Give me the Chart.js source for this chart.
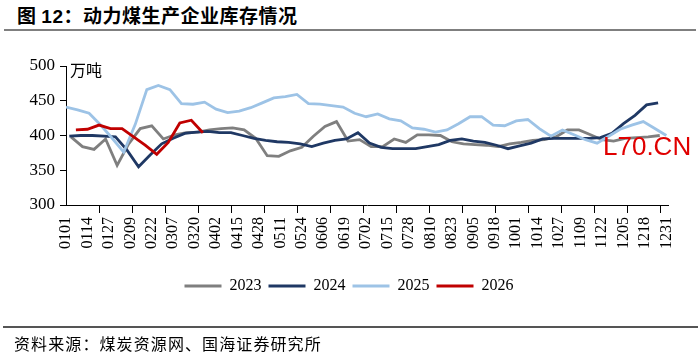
<!DOCTYPE html>
<html lang="zh-CN">
<head>
  <meta charset="UTF-8">
  <title>动力煤生产企业库存情况</title>
  <script src="https://cdn.jsdelivr.net/npm/chart.js"></script>
  <style>
    html, body { margin: 0; padding: 0; background: #fff; }
    body { width: 698px; height: 354px; position: relative; overflow: hidden; }
    #coalChart { position: absolute; left: 0; top: 0; }
    .title { position: absolute; left: 17px; top: 4px; font: bold 19px/22px "Noto Sans CJK SC"; color: #000; white-space: nowrap; letter-spacing: 0.5px; }
    .title span { font-family: "Liberation Sans"; }
    .rule { position: absolute; left: 4px; width: 692px; height: 2px; background: #7f7f7f; }
    .unit { position: absolute; left: 70px; top: 59px; font: 16px/20px "Noto Sans CJK SC"; color: #000; }
    .source { position: absolute; left: 14px; top: 333px; font: 16px/20px "Noto Sans CJK SC"; color: #000; letter-spacing: 1.1px; white-space: nowrap; }
    .mark { position: absolute; left: 603px; top: 133px; font: 26px/26px "Liberation Sans"; color: #e00000; }
  </style>
</head>
<body>

  <div class="title">图 <span>12</span>：动力煤生产企业库存情况</div>
  <div class="rule" style="top:29px"></div>
  <canvas id="coalChart" width="698" height="354"></canvas>
  <div class="unit">万吨</div>
  <div class="mark">L70.CN</div>
  <div class="rule" style="top:326px; left:3px; width:695px; background:#555"></div>
  <div class="source">资料来源：煤炭资源网、国海证券研究所</div>

  <script>
    // x axis labels (MMDD)
    const tickLabels = ['0101', '0114', '0127', '0209', '0222', '0307', '0320', '0402', '0415', '0428',
      '0511', '0524', '0606', '0619', '0702', '0715', '0728', '0810', '0823', '0905',
      '0918', '1001', '1014', '1027', '1109', '1122', '1205', '1218', '1231'];

    // weekly data, first date of each year
    const start2023 = '0104';
    const start2024 = '0103';
    const start2025 = '0101';
    const start2026 = '0107';

    const v2023 = [398, 384, 380, 395, 357, 388, 410, 414, 395, 401, 404, 405, 408, 410, 411, 408, 396, 371, 370, 378,
      383, 399, 413, 420, 392, 394, 384, 384, 395, 390, 401, 401, 400, 391, 388, 387, 386, 384, 388, 390,
      393, 394, 398, 408, 408, 401, 394, 392, 396, 397, 398, 400];
    const v2024 = [399, 400, 400, 399, 398, 379, 355, 372, 388, 396, 403, 405, 406, 404, 404, 400, 396, 393, 391, 390,
      388, 384, 389, 393, 395, 404, 389, 383, 381, 381, 381, 384, 387, 393, 395, 392, 390, 386, 381, 385,
      389, 395, 396, 396, 396, 396, 397, 403, 417, 429, 444, 447];
    const v2025 = [441, 437, 432, 415, 396, 376, 416, 466, 472, 466, 446, 445, 448, 438, 433, 435, 440, 447, 454, 456,
      459, 446, 445, 443, 441, 432, 427, 431, 424, 421, 411, 409, 405, 408, 417, 427, 427, 415, 414, 421,
      423, 410, 399, 408, 401, 394, 389, 399, 409, 415, 420, 410, 400];
    const v2026 = [408, 409, 415, 410, 410, 398, 386, 373, 390, 418, 422, 404];

    function dayOfYear(mmdd) {
      const m = +mmdd.slice(0, 2), d = +mmdd.slice(2);
      return (Date.UTC(2023, m - 1, d) - Date.UTC(2023, 0, 1)) / 864e5;
    }
    function weekly(start, values) {
      const d0 = dayOfYear(start);
      return values.map((v, i) => ({ x: d0 + 7 * i, y: v }));
    }

    const serif = '"Liberation Serif", "Times New Roman", serif';

    // tick marks on the date axis every 20 days
    const xTickMarks = {
      id: 'xTickMarks',
      afterDraw(chart) {
        const { ctx, chartArea, scales: { x } } = chart;
        ctx.save();
        ctx.strokeStyle = '#000';
        ctx.lineWidth = 1;
        ctx.beginPath();
        for (let d = 20; d <= 360; d += 20) {
          const px = Math.round(x.getPixelForValue(d)) + 0.5;
          ctx.moveTo(px, chartArea.bottom);
          ctx.lineTo(px, chartArea.bottom + 8);
        }
        ctx.stroke();
        ctx.restore();
      }
    };

    function series(label, data, color, order) {
      return { label, data, borderColor: color, backgroundColor: color, borderWidth: 2.8,
        pointRadius: 0, tension: 0, order };
    }

    new Chart(document.getElementById('coalChart'), {
      type: 'line',
      data: {
        datasets: [
          series('2023', weekly(start2023, v2023), '#7f7f7f', 4),
          series('2024', weekly(start2024, v2024), '#1f3864', 3),
          series('2025', weekly(start2025, v2025), '#9dc3e6', 2),
          series('2026', weekly(start2026, v2026), '#c00000', 1)
        ]
      },
      options: {
        responsive: false,
        animation: false,
        layout: { padding: { left: 0, right: 0, top: 66, bottom: 50 } },
        scales: {
          x: {
            type: 'linear', min: 0, max: 365,
            afterBuildTicks: s => { s.ticks = tickLabels.map(l => ({ value: dayOfYear(l) })); },
            ticks: {
              autoSkip: false, minRotation: 90, maxRotation: 90, padding: 12,
              font: { family: serif, size: 16 }, color: '#000',
              callback: v => tickLabels.find(l => dayOfYear(l) === v)
            },
            grid: { display: false, drawTicks: false },
            border: { display: true, color: '#000', width: 1 },
            afterFit: s => { s.height = 66; }
          },
          y: {
            min: 300, max: 500,
            ticks: { stepSize: 50, padding: 5, font: { family: serif, size: 17 }, color: '#000' },
            grid: { drawOnChartArea: false, tickLength: 6, color: '#000' },
            border: { color: '#000', width: 1 },
            afterFit: s => { s.width = 66; }
          },
          // empty right margin so the legend centres on the whole page
          yRight: {
            position: 'right',
            ticks: { display: false },
            grid: { display: false, drawTicks: false },
            border: { display: false },
            afterFit: s => { s.width = 30; }
          }
        },
        plugins: {
          tooltip: { enabled: false },
          legend: {
            position: 'bottom',
            labels: {
              boxWidth: 37, boxHeight: 3, padding: 7,
              font: { family: serif, size: 16 }, color: '#000',
              sort: (a, b) => a.datasetIndex - b.datasetIndex,
              generateLabels: chart => Chart.defaults.plugins.legend.labels.generateLabels(chart)
                .map(it => Object.assign(it, { fillStyle: it.strokeStyle, lineWidth: 0 }))
            }
          }
        }
      },
      plugins: [xTickMarks]
    });
  </script>

</body>
</html>
